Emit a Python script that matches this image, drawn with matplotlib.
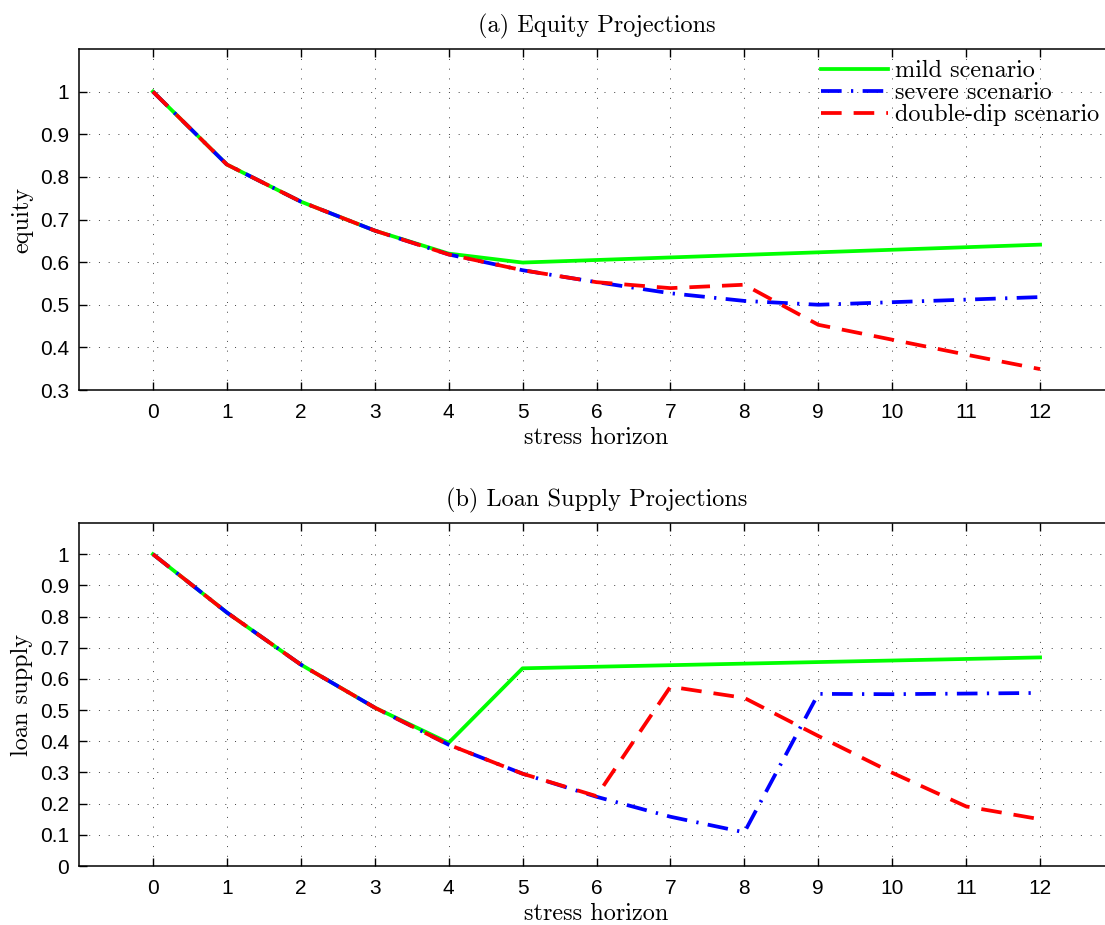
import numpy as np
import matplotlib
matplotlib.use("Agg")
import matplotlib.pyplot as plt

# ---------------------------
# DATOS
# ---------------------------
horizonte = np.arange(0, 13)

equity_mild = [1.0, 0.829, 0.742, 0.674, 0.620, 0.599, 0.605, 0.611, 0.617, 0.623, 0.629, 0.635, 0.641]
equity_severe = [1.0, 0.829, 0.742, 0.674, 0.618, 0.581, 0.553, 0.527, 0.509, 0.500, 0.506, 0.512, 0.518]
equity_double = [1.0, 0.829, 0.742, 0.674, 0.618, 0.581, 0.553, 0.539, 0.547, 0.453, 0.418, 0.383, 0.349]

loan_mild = [1.0, 0.813, 0.646, 0.508, 0.395, 0.634, 0.639, 0.644, 0.649, 0.654, 0.659, 0.664, 0.669]
loan_severe = [1.0, 0.813, 0.646, 0.508, 0.389, 0.296, 0.222, 0.158, 0.108, 0.552, 0.551, 0.553, 0.555]
loan_double = [1.0, 0.813, 0.646, 0.508, 0.389, 0.296, 0.224, 0.575, 0.539, 0.417, 0.299, 0.191, 0.150]

etiquetas = ["mild scenario", "severe scenario", "double-dip scenario"]

# ---------------------------
# ESTILO
# ---------------------------
SERIF = "cmr10"
SANS = "Liberation Sans"
TAM_SERIF = 17.5

plt.rcParams["font.family"] = SANS
plt.rcParams["axes.formatter.use_mathtext"] = False

W, H = 1105, 925
fig = plt.figure(figsize=(W / 100, H / 100), dpi=100)


def config_axes(ax, titulo, ylabel, ylim, yticks, yticklabels):
    ax.set_xlim(-1, 13)
    ax.set_ylim(*ylim)
    ax.set_xticks(horizonte)
    ax.set_xticklabels([str(h) for h in horizonte])
    ax.set_yticks(yticks)
    ax.set_yticklabels(yticklabels)
    ax.tick_params(direction="in", length=6, width=1, top=True, right=True,
                   labelsize=15, pad=7)
    ax.tick_params(axis="x", pad=9)
    for s in ax.spines.values():
        s.set_linewidth(1.1)
    ax.grid(True, linestyle=(0, (1, 9)), linewidth=0.7, color="0.25")
    ax.set_axisbelow(True)
    ax.set_title(titulo, fontfamily=SERIF, fontsize=TAM_SERIF, pad=12)
    ax.set_xlabel("stress horizon", fontfamily=SERIF, fontsize=TAM_SERIF, labelpad=4)
    ax.set_ylabel(ylabel, fontfamily=SERIF, fontsize=TAM_SERIF, labelpad=5)


def dibujar(ax, mild, severe, double):
    l1, = ax.plot(horizonte, mild, color="#00ff00", linewidth=2.7, linestyle="-")
    l2, = ax.plot(horizonte, severe, color="#0000ff", linewidth=2.7,
                  linestyle=(0, (5.5, 2.5, 0.6, 2.5)))
    l3, = ax.plot(horizonte, double, color="#ff0000", linewidth=2.7,
                  linestyle=(0, (5.5, 3.2)))
    return [l1, l2, l3]


# ---------------------------
# PANEL (a)
# ---------------------------
ax1 = fig.add_axes([79 / W, 1 - 390 / H, (1114 - 79) / W, (390 - 49) / H])
lineas = dibujar(ax1, equity_mild, equity_severe, equity_double)
yt1 = [0.3, 0.4, 0.5, 0.6, 0.7, 0.8, 0.9, 1.0]
config_axes(ax1, "(a) Equity Projections", "equity", (0.3, 1.1),
            yt1, ["0.3", "0.4", "0.5", "0.6", "0.7", "0.8", "0.9", "1"])

fig.legend(lineas, etiquetas, loc="upper left",
           bbox_to_anchor=(821 / W, 1 - 60 / H), frameon=False,
           prop={"family": SERIF, "size": TAM_SERIF}, handlelength=2.75,
           handletextpad=0.3, labelspacing=0.0, borderpad=0, borderaxespad=0)

# ---------------------------
# PANEL (b)
# ---------------------------
ax2 = fig.add_axes([79 / W, 1 - 866 / H, (1114 - 79) / W, (866 - 523) / H])
dibujar(ax2, loan_mild, loan_severe, loan_double)
yt2 = [0, 0.1, 0.2, 0.3, 0.4, 0.5, 0.6, 0.7, 0.8, 0.9, 1.0]
config_axes(ax2, "(b) Loan Supply Projections", "loan supply", (0, 1.1),
            yt2, ["0", "0.1", "0.2", "0.3", "0.4", "0.5", "0.6", "0.7", "0.8", "0.9", "1"])

fig.savefig("out.png", dpi=100)
